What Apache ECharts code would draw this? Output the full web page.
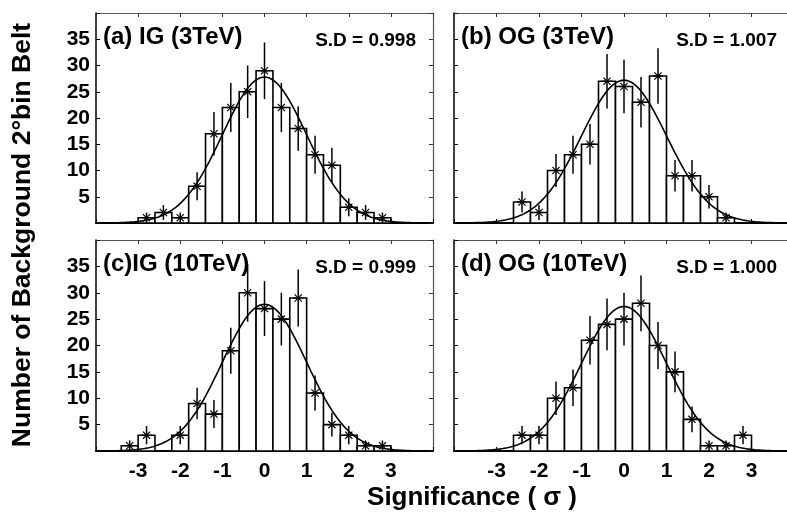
<!DOCTYPE html>
<html>
<head>
<meta charset="utf-8">
<script src="https://cdn.jsdelivr.net/npm/echarts@6/dist/echarts.min.js"></script>
<style>html,body{margin:0;padding:0;background:#fff}#c{width:787px;height:522px}</style>
</head>
<body>
<div id="c"></div>
<script>
// ---- data ----
const binCenters = [-3.2,-2.8,-2.4,-2.0,-1.6,-1.2,-0.8,-0.4,0,0.4,0.8,1.2,1.6,2.0,2.4,2.8];
const countsA = [0,1,2,1,7,17,22,25,29,22,18,13,11,3,2,1];
const countsB = [0,0,4,2,10,13,15,27,26,23,28,9,9,5,1,0];
const countsC = [1,3,0,3,9,7,19,30,27,25,29,11,5,3,1,1];
const countsD = [0,0,3,3,10,12,21,24,25,28,20,15,6,1,1,3];
const panelTitles = ['(a) IG (3TeV)','(b) OG (3TeV)','(c)IG (10TeV)','(d) OG (10TeV)'];
const sdValues = [0.998, 1.007, 0.999, 1.000];
const fitPeaks = [27.8, 27.2, 27.8, 27.4];
const fitMeans = [0, 0, 0, 0];
const xTicks = [-3,-2,-1,0,1,2,3];
const yTicks = [5,10,15,20,25,30,35];
const binWidth = 0.4;

const allCounts = [countsA, countsB, countsC, countsD];
const FONT = '"Liberation Sans", Arial, sans-serif';

const grids = [
  {left: 96, top: 13, width: 337, height: 210},
  {left: 454, top: 13, width: 340, height: 210},
  {left: 96, top: 240, width: 337, height: 211},
  {left: 454, top: 240, width: 340, height: 211}
];

const xAxes = [], yAxes = [], series = [], graphics = [];

grids.forEach((g, i) => {
  const bottomRow = i >= 2, leftCol = (i % 2) === 0;
  xAxes.push({
    gridIndex: i, type: 'value', min: -4, max: 4, interval: 1, position: 'bottom',
    axisLine: {show: true, onZero: false, lineStyle: {color: '#000', width: 2}},
    axisTick: {show: true, inside: true, length: 4, lineStyle: {color: '#000', width: 1}},
    axisLabel: {show: bottomRow, margin: 10, color: '#000', fontWeight: 'bold', fontSize: 21, fontFamily: FONT,
      formatter: v => xTicks.indexOf(v) >= 0 ? String(v) : ''},
    splitLine: {show: false}
  });
  xAxes.push({
    gridIndex: i, type: 'value', min: -4, max: 4, interval: 1, position: 'top',
    axisLine: {show: true, onZero: false, lineStyle: {color: '#555', width: 1.2}},
    axisTick: {show: true, inside: true, length: 4, lineStyle: {color: '#333', width: 1}},
    axisLabel: {show: false}, splitLine: {show: false}
  });
  yAxes.push({
    gridIndex: i, type: 'value', min: 0, max: 40, interval: 5, position: 'left',
    axisLine: {show: true, onZero: false, lineStyle: {color: '#000', width: 1.5}},
    axisTick: {show: true, inside: true, length: 4, lineStyle: {color: '#000', width: 1}},
    axisLabel: {show: leftCol, margin: 6, color: '#000', fontWeight: 'bold', fontSize: 21, fontFamily: FONT,
      formatter: v => yTicks.indexOf(v) >= 0 ? String(v) : ''},
    splitLine: {show: false}
  });
  yAxes.push({
    gridIndex: i, type: 'value', min: 0, max: 40, interval: 5, position: 'right',
    axisLine: {show: true, onZero: false, lineStyle: {color: '#555', width: 1.2}},
    axisTick: {show: true, inside: true, length: 4, lineStyle: {color: '#333', width: 1}},
    axisLabel: {show: false}, splitLine: {show: false}
  });

  const data = binCenters.map((x, k) => [x, allCounts[i][k]]);
  const xi = i * 2, yi = i * 2;

  series.push({
    type: 'custom', xAxisIndex: xi, yAxisIndex: yi, z: 2, silent: true,
    data: data,
    renderItem: (params, api) => {
      const x = api.value(0), y = api.value(1);
      if (!y) return null;
      const p0 = api.coord([x - binWidth / 2, y]);
      const p1 = api.coord([x + binWidth / 2, 0]);
      return {type: 'rect', shape: {x: p0[0], y: p0[1], width: p1[0] - p0[0], height: p1[1] - p0[1]},
        style: {fill: '#fff', stroke: '#000', lineWidth: 1.6}};
    }
  });

  const curve = [];
  for (let x = -4; x <= 4.0001; x += 0.05) {
    const d = x - fitMeans[i];
    curve.push([x, fitPeaks[i] * Math.exp(-d * d / (2 * sdValues[i] * sdValues[i]))]);
  }
  series.push({
    type: 'line', xAxisIndex: xi, yAxisIndex: yi, z: 3, data: curve, showSymbol: false, smooth: false,
    lineStyle: {color: '#000', width: 1.6}, silent: true, animation: false
  });

  series.push({
    type: 'custom', xAxisIndex: xi, yAxisIndex: yi, z: 4, silent: true,
    data: data,
    renderItem: (params, api) => {
      const x = api.value(0), y = api.value(1);
      if (!y) return null;
      const e = Math.sqrt(y);
      const pt = api.coord([x, y + e]);
      const pb = api.coord([x, y - e]);
      const c = api.coord([x, y]);
      const r = 5, s = 3.6;
      const st = {stroke: '#000', lineWidth: 1.5};
      return {type: 'group', children: [
        {type: 'line', shape: {x1: pt[0], y1: pt[1], x2: pb[0], y2: pb[1]}, style: st},
        {type: 'line', shape: {x1: c[0] - r, y1: c[1], x2: c[0] + r, y2: c[1]}, style: {stroke: '#000', lineWidth: 1.2}},
        {type: 'line', shape: {x1: c[0] - s, y1: c[1] - s, x2: c[0] + s, y2: c[1] + s}, style: {stroke: '#000', lineWidth: 1.2}},
        {type: 'line', shape: {x1: c[0] - s, y1: c[1] + s, x2: c[0] + s, y2: c[1] - s}, style: {stroke: '#000', lineWidth: 1.2}}
      ]};
    }
  });

  graphics.push({type: 'text', x: g.left + 7, y: g.top + 24, z: 10,
    style: {text: panelTitles[i], fill: '#000', font: 'bold 24px ' + FONT, verticalAlign: 'middle'}});
  const sdRight = i % 2 === 0 ? g.left + g.width - 17 : 777;
  graphics.push({type: 'text', x: sdRight, y: g.top + 28, z: 10,
    style: {text: 'S.D = ' + sdValues[i].toFixed(3), fill: '#000', font: 'bold 19px ' + FONT,
      align: 'right', verticalAlign: 'middle'}});
});

graphics.push({type: 'text', x: 23, y: 235, rotation: Math.PI / 2, z: 10,
  style: {text: 'Number of Background 2°bin Belt', fill: '#000', font: 'bold 26.5px ' + FONT,
    align: 'center', verticalAlign: 'middle'}});
graphics.push({type: 'text', x: 472, y: 498, z: 10,
  style: {text: 'Significance ( σ )', fill: '#000', font: 'bold 26px ' + FONT,
    align: 'center', verticalAlign: 'middle'}});

const chart = echarts.init(document.getElementById('c'), null, {renderer: 'canvas'});
chart.setOption({
  backgroundColor: '#fff',
  animation: false,
  grid: grids.map(g => Object.assign({containLabel: false, outerBoundsMode: 'none'}, g)),
  xAxis: xAxes,
  yAxis: yAxes,
  series: series,
  graphic: graphics
});
</script>
</body>
</html>
